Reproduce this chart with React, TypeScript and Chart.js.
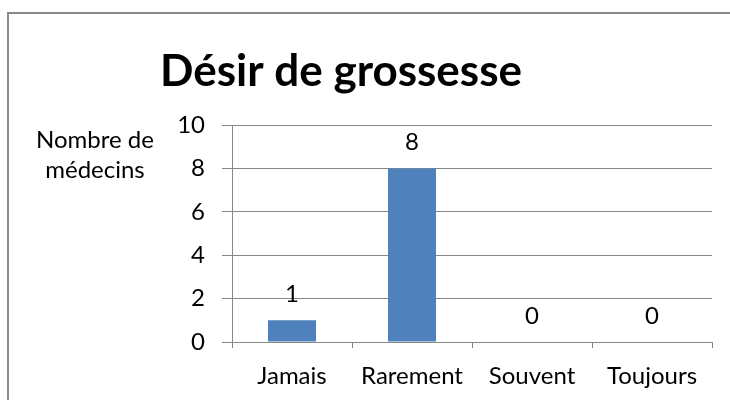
import React, { useEffect, useRef } from "react";
import { Chart, registerables } from "chart.js";

Chart.register(...registerables);

const chartTitle = "Désir de grossesse";
const yLabelLines = ["Nombre de", "médecins"];
const categories = ["Jamais", "Rarement", "Souvent", "Toujours"];
const values = [1, 8, 0, 0];
const yTicks = [0, 2, 4, 6, 8, 10];

const FONT = "Lato, 'Open Sans', sans-serif";
const GRID = "#868686";
const FS = 24;

const decorPlugin = {
  id: "decor",
  beforeDraw(chart: any) {
    const ctx = chart.ctx;
    ctx.save();
    ctx.strokeStyle = "#8a8a8a";
    ctx.lineWidth = 2;
    ctx.beginPath();
    ctx.moveTo(8, 420);
    ctx.lineTo(8, 13);
    ctx.lineTo(760, 13);
    ctx.stroke();
    ctx.restore();
  },
  afterDraw(chart: any) {
    const ctx = chart.ctx;
    const area = chart.chartArea;
    ctx.save();
    ctx.fillStyle = "#000";
    ctx.textAlign = "center";
    ctx.textBaseline = "middle";
    ctx.font = `bold 44px ${FONT}`;
    ctx.fillText(chartTitle, 341, 72);
    ctx.font = `${FS}px ${FONT}`;
    yLabelLines.forEach((t, i) => ctx.fillText(t, 95, area.top + 15 + i * 30));
    const meta = chart.getDatasetMeta(0);
    meta.data.forEach((bar: any, i: number) => {
      ctx.fillText(String(values[i]), bar.x, bar.y - 26);
    });
    ctx.restore();
  },
};

export default function App() {
  const ref = useRef<HTMLCanvasElement>(null);
  useEffect(() => {
    if (!ref.current) return;
    const chart = new Chart(ref.current, {
      type: "bar",
      data: {
        labels: categories,
        datasets: [
          {
            data: values,
            backgroundColor: "#4F81BD",
            categoryPercentage: 1,
            barPercentage: 0.4,
          },
        ],
      },
      options: {
        animation: false,
        responsive: false,
        layout: { padding: { top: 125, right: 18, left: 0, bottom: 0 } },
        plugins: { legend: { display: false }, tooltip: { enabled: false } },
        scales: {
          x: {
            afterFit: (s: any) => {
              s.height = 58;
            },
            grid: {
              offset: true,
              drawOnChartArea: false,
              tickLength: 6,
              color: GRID,
            },
            border: { color: GRID, width: 1 },
            ticks: { color: "#000", font: { family: FONT, size: FS }, padding: 14 },
          },
          y: {
            min: 0,
            max: 10,
            afterFit: (s: any) => {
              s.width = 232;
            },
            afterBuildTicks: (s: any) => {
              s.ticks = yTicks.map((v) => ({ value: v }));
            },
            grid: { color: GRID, tickLength: 10 },
            border: { color: GRID, width: 1 },
            ticks: { color: "#000", font: { family: FONT, size: FS }, padding: 17 },
          },
        },
      },
      plugins: [decorPlugin],
    });
    return () => chart.destroy();
  }, []);
  return (
    <div style={{ position: "absolute", left: 0, top: 0, width: 730, height: 400, background: "#fff" }}>
      <canvas ref={ref} width={730} height={400} />
    </div>
  );
}
